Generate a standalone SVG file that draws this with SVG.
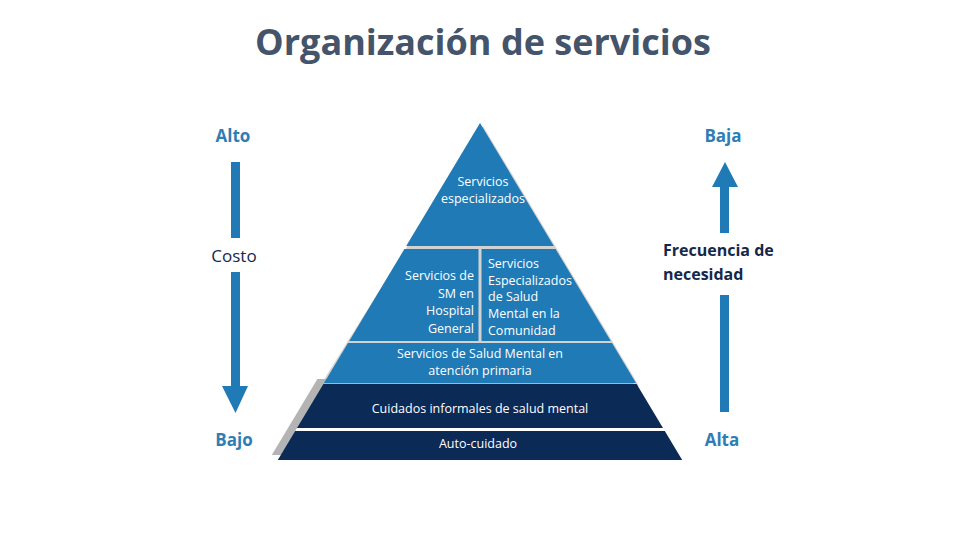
<svg xmlns="http://www.w3.org/2000/svg" width="960" height="540" viewBox="0 0 960 540">
<style>
.lb{fill:#1F7AB6}
.nv{fill:#0C2A56}
.sh{fill:#B4B4B4}
.t{font-family:"Open Sans","Liberation Sans",sans-serif;fill:#fff;font-size:12.5px}
.lab{font-family:"Open Sans","Liberation Sans",sans-serif;font-weight:bold;font-size:17px}
.ar{fill:#1F7AB6}
</style>
<rect width="960" height="540" fill="#fff"/>
<text x="483" y="55" text-anchor="middle" font-family="Open Sans, Liberation Sans, sans-serif" font-weight="bold" font-size="36" fill="#44546A">Organización de servicios</text>

<g id="shadows">
<polygon class="sh" points="483,126 614,344 639,386 320,386 346,344" opacity="0.6"/>
<polygon class="sh" points="317.4,379 630.6,379 676.2,455 271.8,455"/>
<polygon fill="#fff" points="297,428 663,428 664.8,431 295.2,431"/>
</g>

<g id="tier1"><polygon class="lb" points="480,123 553.8,246 406.2,246"/>
<text class="t" text-anchor="middle"><tspan x="483" y="186">Servicios</tspan><tspan x="483" y="203">especializados</tspan></text></g>
<g id="tier2a"><polygon class="lb" points="404.4,249 478.5,249 478.5,341 349.2,341"/>
<text class="t" text-anchor="end"><tspan x="474" y="280">Servicios de</tspan><tspan x="474" y="298">SM en</tspan><tspan x="474" y="315">Hospital</tspan><tspan x="474" y="333">General</tspan></text></g>
<g id="tier2b"><polygon class="lb" points="481.5,249 555.6,249 610.8,341 481.5,341"/>
<text class="t"><tspan x="488" y="268">Servicios</tspan><tspan x="488" y="285">Especializados</tspan><tspan x="488" y="301">de Salud</tspan><tspan x="488" y="318">Mental en la</tspan><tspan x="488" y="335">Comunidad</tspan></text></g>
<g id="tier3"><polygon class="lb" points="348,343 612,343 636,383 324,383"/>
<text class="t" text-anchor="middle"><tspan x="480" y="358">Servicios de Salud Mental en</tspan><tspan x="480" y="375">atención primaria</tspan></text></g>
<g id="tier4"><polygon class="nv" points="323.4,384 636.6,384 663,428 297,428"/>
<text class="t" x="480" y="413" text-anchor="middle">Cuidados informales de salud mental</text></g>
<g id="tier5"><polygon class="nv" points="295.2,431 664.8,431 682.2,460 277.8,460"/>
<text class="t" x="478" y="448" text-anchor="middle">Auto-cuidado</text></g>

<g id="labels">
<text class="lab" x="233" y="142" text-anchor="middle" fill="#2E7DB5">Alto</text>
<text class="lab" x="723" y="142" text-anchor="middle" fill="#2E7DB5">Baja</text>
<text class="lab" x="234" y="446" text-anchor="middle" fill="#2E7DB5">Bajo</text>
<text class="lab" x="722" y="446" text-anchor="middle" fill="#2E7DB5">Alta</text>
<text x="234" y="262" text-anchor="middle" font-family="Open Sans, Liberation Sans, sans-serif" font-size="17" fill="#14284B">Costo</text>
<text font-family="Open Sans, Liberation Sans, sans-serif" font-weight="bold" font-size="16" fill="#14284B"><tspan x="663" y="256">Frecuencia de</tspan><tspan x="663" y="280">necesidad</tspan></text>
</g>

<g id="connectors">
<rect class="ar" x="231" y="162" width="9" height="76"/>
<polygon class="ar" points="231,272 240,272 240,386 248,386 235.5,413 222,386 231,386"/>
<polygon class="ar" points="725,162 738,187 729,187 729,233 720,233 720,187 712,187"/>
<rect class="ar" x="720" y="295" width="9" height="117"/>
</g>
</svg>
